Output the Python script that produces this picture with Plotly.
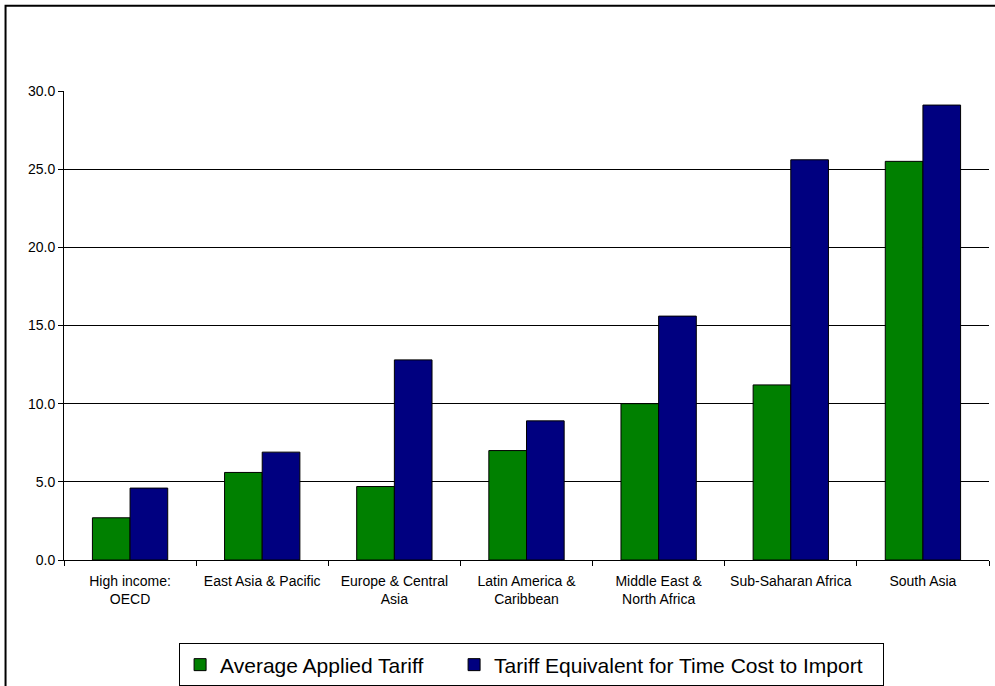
import plotly.graph_objects as go

categories = ["High income:<br>OECD", "East Asia & Pacific", "Europe & Central<br>Asia",
              "Latin America &<br>Caribbean", "Middle East &<br>North Africa",
              "Sub-Saharan Africa", "South Asia"]
avg_applied_tariff = [2.7, 5.6, 4.7, 7.0, 10.0, 11.2, 25.5]
time_cost_tariff = [4.6, 6.9, 12.8, 8.9, 15.6, 25.6, 29.1]
y_ticks = [0, 5, 10, 15, 20, 25, 30]

FONT = "Liberation Sans, Arial, sans-serif"

fig = go.Figure()
fig.add_trace(go.Bar(x=categories, y=avg_applied_tariff, name="Average Applied Tariff",
                     legendwidth=229,
                     marker=dict(color="#008000", line=dict(color="#000000", width=1))))
fig.add_trace(go.Bar(x=categories, y=time_cost_tariff,
                     name="Tariff Equivalent for Time Cost to Import",
                     legendwidth=384,
                     marker=dict(color="#000080", line=dict(color="#000000", width=1))))

fig.update_layout(
    width=995, height=686,
    margin=dict(l=64, r=6, t=91, b=126, autoexpand=False),
    paper_bgcolor="white", plot_bgcolor="white",
    barmode="group", bargap=0.43, bargroupgap=0,
    font=dict(family=FONT, size=14, color="#000000"),
    showlegend=True,
    legend=dict(orientation="h", x=0.5055, xanchor="center", y=-0.178, yanchor="top",
                bordercolor="#000000", borderwidth=1, font=dict(size=21),
                traceorder="normal", itemwidth=30),
    xaxis=dict(showline=True, linecolor="#000000", linewidth=1,
               ticks="outside", ticklen=5, tickcolor="#000000", tickson="boundaries",
               showgrid=False, tickfont=dict(size=14), ticklabelstandoff=8),
    yaxis=dict(range=[0, 30], tickvals=y_ticks, tickformat=".1f",
               showline=True, linecolor="#000000", linewidth=1,
               ticks="outside", ticklen=5, tickcolor="#000000",
               showgrid=True, gridcolor="#000000", gridwidth=1,
               zeroline=False, tickfont=dict(size=14)),
)

# outer chart frame (only left and top edges are visible in the crop)
fig.add_shape(type="path", xref="paper", yref="paper",
              path="M -0.0632,-0.6 L -0.0632,1.182 L 1.2,1.182",
              line=dict(color="#000000", width=2), layer="below")

fig.write_html("out.html", config={"displayModeBar": False},
               post_script="document.body.style.margin='0';")
